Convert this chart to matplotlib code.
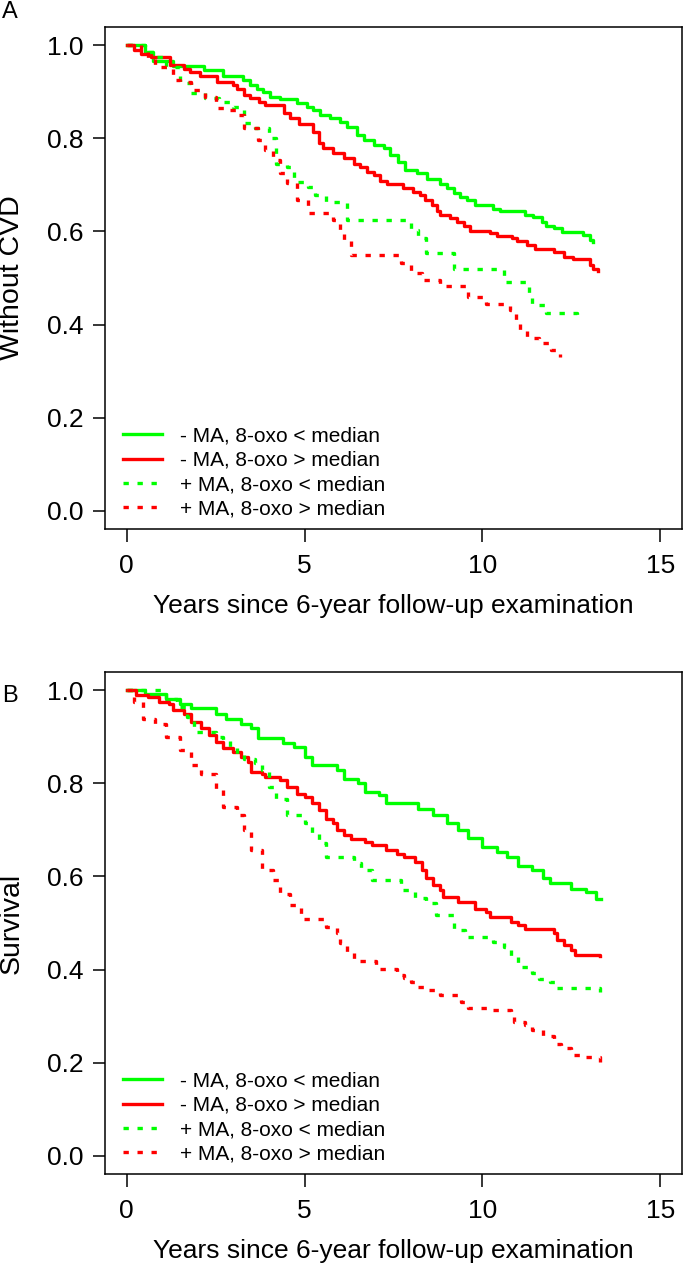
import matplotlib
matplotlib.use("Agg")
import matplotlib.pyplot as plt

plt.rcParams['font.family'] = ['Liberation Sans', 'DejaVu Sans']

# -------------------------
# Data, step curves: drop times and values
# -------------------------

labels = ["- MA, 8-oxo < median", "- MA, 8-oxo > median",
          "+ MA, 8-oxo < median", "+ MA, 8-oxo > median"]
colors = ["#00ff00", "#ff0000", "#00ff00", "#ff0000"]
styles = ["solid", "solid", "dotted", "dotted"]

# Panel A: without CVD
a_t1 = [0, 0.5, 0.75, 1.3, 2.17, 2.72, 3.28, 3.47, 3.66, 3.84, 4.04, 4.32, 4.79, 5.07,
        5.25, 5.44, 5.72, 6.0, 6.19, 6.47, 6.66, 6.94, 7.22, 7.41, 7.64, 7.83, 8.16,
        8.44, 8.81, 9.0, 9.19, 9.37, 9.56, 9.8, 10.3, 10.5, 11.2, 11.43, 11.67, 11.8,
        12.0, 12.23, 12.84, 13.03, 13.1]
a_s1 = [1.0, 0.986, 0.966, 0.956, 0.948, 0.935, 0.925, 0.915, 0.907, 0.900, 0.889, 0.884,
        0.875, 0.868, 0.861, 0.850, 0.843, 0.836, 0.825, 0.807, 0.797, 0.786, 0.779,
        0.764, 0.750, 0.733, 0.725, 0.713, 0.703, 0.693, 0.682, 0.673, 0.668, 0.656,
        0.648, 0.643, 0.635, 0.630, 0.621, 0.612, 0.607, 0.598, 0.592, 0.582, 0.578]

a_t2 = [0, 0.2, 0.4, 0.67, 1.23, 1.6, 1.79, 2.07, 2.54, 3.0, 3.1, 3.29, 3.47, 3.71, 3.9,
        4.41, 4.6, 4.83, 5.25, 5.4, 5.53, 5.81, 6.1, 6.38, 6.56, 6.75, 6.94, 7.13, 7.31,
        7.78, 8.06, 8.25, 8.39, 8.58, 8.72, 8.81, 9.09, 9.28, 9.47, 9.65, 10.22, 10.4,
        10.83, 10.97, 11.25, 11.48, 12.0, 12.28, 12.56, 13.03, 13.12, 13.26]
a_s2 = [1.0, 0.99, 0.981, 0.975, 0.958, 0.950, 0.943, 0.935, 0.922, 0.915, 0.907, 0.893,
        0.886, 0.879, 0.872, 0.854, 0.843, 0.831, 0.814, 0.789, 0.779, 0.768, 0.757,
        0.746, 0.739, 0.728, 0.721, 0.708, 0.703, 0.693, 0.685, 0.678, 0.668, 0.657,
        0.643, 0.635, 0.628, 0.621, 0.612, 0.602, 0.596, 0.590, 0.585, 0.580, 0.571,
        0.563, 0.556, 0.546, 0.540, 0.528, 0.519, 0.514]

a_t3 = [0, 0.5, 0.8, 1.1, 1.5, 1.8, 2.2, 2.6, 3.0, 3.3, 3.6, 4.0, 4.2, 4.5, 4.7, 5.1,
        5.3, 5.6, 6.2, 8.0, 8.2, 8.4, 9.2, 10.6, 11.3, 11.4, 11.8, 12.66]
a_s3 = [1.0, 0.986, 0.975, 0.954, 0.918, 0.897, 0.886, 0.879, 0.868, 0.832, 0.822, 0.800,
        0.746, 0.739, 0.707, 0.696, 0.678, 0.664, 0.625, 0.603, 0.586, 0.553, 0.519,
        0.492, 0.467, 0.442, 0.425, 0.42]

a_t4 = [0, 0.4, 0.6, 0.8, 1.3, 1.5, 1.8, 2.2, 2.5, 2.8, 3.1, 3.3, 3.7, 3.9, 4.1, 4.3,
        4.5, 4.8, 5.1, 5.8, 6.0, 6.1, 6.3, 7.7, 8.0, 8.3, 8.8, 9.6, 10.1, 10.77, 10.95,
        11.07, 11.25, 11.6, 11.93, 12.17]
a_s4 = [1.0, 0.99, 0.972, 0.954, 0.925, 0.922, 0.904, 0.889, 0.865, 0.861, 0.850, 0.822,
        0.797, 0.775, 0.754, 0.725, 0.704, 0.668, 0.639, 0.625, 0.603, 0.582, 0.549,
        0.532, 0.510, 0.495, 0.483, 0.460, 0.445, 0.431, 0.41, 0.385, 0.370, 0.36,
        0.345, 0.331]

# Panel B: survival
b_t1 = [0, 0.5, 1.1, 1.5, 1.8, 2.5, 2.8, 3.2, 3.5, 3.7, 4.4, 4.7, 5.0, 5.2, 5.9, 6.1,
        6.5, 6.7, 7.1, 7.3, 8.2, 8.6, 9.0, 9.3, 9.6, 10.0, 10.4, 10.7, 11.0, 11.4, 11.7,
        11.9, 12.5, 12.9, 13.2, 13.33]
b_s1 = [1.0, 0.993, 0.982, 0.971, 0.962, 0.950, 0.939, 0.928, 0.918, 0.897, 0.886, 0.878,
        0.857, 0.839, 0.828, 0.810, 0.800, 0.782, 0.775, 0.757, 0.746, 0.732, 0.714,
        0.699, 0.682, 0.664, 0.653, 0.642, 0.623, 0.613, 0.596, 0.586, 0.574, 0.567,
        0.551, 0.551]

b_t2 = [0, 0.25, 0.6, 0.9, 1.2, 1.3, 1.6, 1.8, 2.1, 2.3, 2.5, 2.7, 3.0, 3.2, 3.4, 3.5,
        3.8, 3.9, 4.3, 4.5, 4.8, 5.0, 5.2, 5.4, 5.6, 5.8, 5.9, 6.1, 6.3, 6.7, 6.9, 7.3,
        7.6, 7.8, 8.1, 8.3, 8.4, 8.6, 8.8, 8.9, 9.3, 9.8, 10.1, 10.2, 10.8, 11.0, 11.2,
        12.0, 12.1, 12.3, 12.5, 12.6, 13.3]
b_s2 = [1.0, 0.989, 0.985, 0.975, 0.971, 0.957, 0.950, 0.932, 0.918, 0.903, 0.889, 0.875,
        0.867, 0.857, 0.846, 0.825, 0.821, 0.814, 0.807, 0.792, 0.778, 0.771, 0.757,
        0.742, 0.724, 0.714, 0.699, 0.689, 0.681, 0.674, 0.667, 0.656, 0.649, 0.641,
        0.631, 0.613, 0.596, 0.581, 0.571, 0.556, 0.545, 0.531, 0.524, 0.513, 0.502,
        0.495, 0.487, 0.478, 0.463, 0.452, 0.442, 0.431, 0.429]

b_t3 = [0, 1.1, 1.4, 1.7, 1.9, 2.5, 2.7, 2.9, 3.1, 3.3, 3.6, 3.8, 4.0, 4.2, 4.5, 5.0,
        5.2, 5.4, 5.6, 6.4, 6.6, 6.9, 7.7, 8.1, 8.4, 8.7, 9.2, 9.5, 10.3, 10.6, 10.8,
        11.0, 11.4, 11.6, 11.9, 12.1, 13.3]
b_s3 = [1.0, 0.982, 0.964, 0.943, 0.910, 0.900, 0.893, 0.878, 0.860, 0.853, 0.843, 0.828,
        0.792, 0.767, 0.732, 0.714, 0.692, 0.671, 0.641, 0.628, 0.613, 0.592, 0.571,
        0.553, 0.542, 0.517, 0.485, 0.470, 0.459, 0.449, 0.427, 0.406, 0.392, 0.379,
        0.374, 0.360, 0.352]

b_t4 = [0, 0.2, 0.45, 0.8, 1.1, 1.5, 1.8, 2.1, 2.5, 2.7, 3.1, 3.3, 3.5, 3.8, 4.1, 4.3,
        4.6, 4.9, 5.6, 5.9, 6.0, 6.2, 6.4, 7.0, 7.6, 7.8, 8.0, 8.2, 8.5, 8.8, 9.4, 9.6,
        10.2, 10.8, 10.9, 11.2, 11.4, 11.7, 12.0, 12.2, 12.5, 12.8, 13.3]
b_s4 = [1.0, 0.975, 0.939, 0.928, 0.900, 0.871, 0.839, 0.821, 0.785, 0.749, 0.732, 0.699,
        0.656, 0.613, 0.592, 0.563, 0.538, 0.508, 0.492, 0.478, 0.456, 0.435, 0.418,
        0.402, 0.388, 0.381, 0.374, 0.363, 0.356, 0.345, 0.331, 0.318, 0.314, 0.298,
        0.288, 0.281, 0.270, 0.257, 0.241, 0.231, 0.216, 0.212, 0.202]

x_ticks = [0, 5, 10, 15]
y_ticks = [0.0, 0.2, 0.4, 0.6, 0.8, 1.0]
x_label = "Years since 6-year follow-up examination"

# -------------------------
# Figure
# -------------------------

fig = plt.figure(figsize=(6.83, 12.65), dpi=100)

panels = [
    ("A", "Without CVD", [0.1543, 0.5816, 0.8437, 0.3973],
     [(a_t1, a_s1), (a_t2, a_s2), (a_t3, a_s3), (a_t4, a_s4)]),
    ("B", "Survival", [0.1543, 0.0717, 0.8437, 0.3973],
     [(b_t1, b_s1), (b_t2, b_s2), (b_t3, b_s3), (b_t4, b_s4)]),
]

for letter, ylab, rect, curves in panels:
    ax = fig.add_axes(rect)
    for (t, s), lab, col, ls in zip(curves, labels, colors, styles):
        if ls == "dotted":
            ax.step(t, s, where="post", color=col, lw=2.4, label=lab,
                    linestyle=(0, (1.6, 2.6)), dash_capstyle="butt")
        else:
            ax.step(t, s, where="post", color=col, lw=2.4, label=lab)

    ax.set_xlim(-0.6, 15.6)
    ax.set_ylim(-0.04, 1.04)
    ax.set_xticks(x_ticks)
    ax.set_yticks(y_ticks)
    ax.set_yticklabels(["%.1f" % v for v in y_ticks])
    ax.tick_params(direction="out", length=9, width=1.1, labelsize=19)
    ax.tick_params(axis="y", pad=7)
    ax.tick_params(axis="x", pad=9)
    for sp in ax.spines.values():
        sp.set_linewidth(1.1)

    ax.set_xlabel(x_label, fontsize=19, labelpad=11)

    ax.legend(loc="lower left", bbox_to_anchor=(0.03, 0.021), frameon=False,
              fontsize=15, handlelength=1.9, handletextpad=0.85,
              labelspacing=0.26, borderpad=0, borderaxespad=0)

    # panel letter and y label placed in figure coordinates
    y_top = rect[1] + rect[3]
    fig.text(0.003, y_top + 0.012 if letter == "A" else y_top - 0.019, letter,
             fontsize=17, ha="left", va="center")
    fig.text(0.017, rect[1] + rect[3] / 2, ylab, fontsize=20.5, rotation=90,
             ha="center", va="center")

fig.savefig("out.png", dpi=100)
